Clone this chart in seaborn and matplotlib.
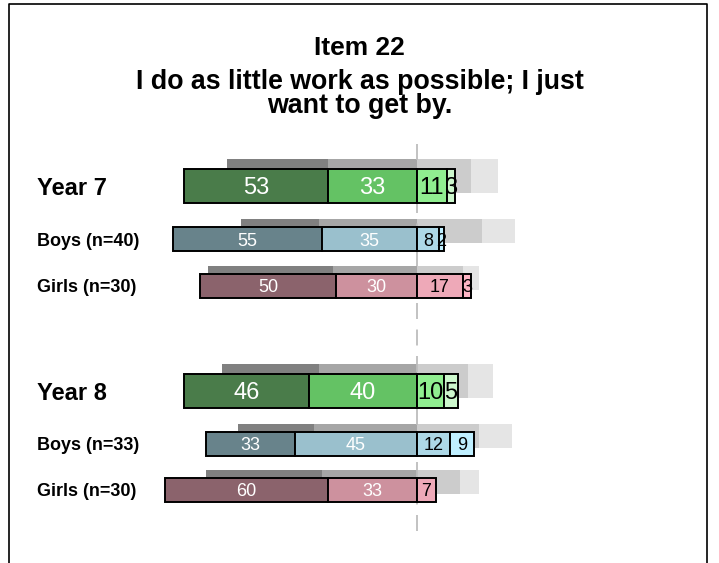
import numpy as np
import matplotlib
matplotlib.use('Agg')
import matplotlib.pyplot as plt
from matplotlib.lines import Line2D
import seaborn as sns

sns.set_style('white')
plt.rcParams['font.family'] = ['Liberation Sans', 'DejaVu Sans']
plt.rcParams['text.color'] = 'black'

#%% data

title = 'Item 22'
question = ['I do as little work as possible; I just', 'want to get by.']

groups = ['Year 7', 'Boys (n=40)', 'Girls (n=30)', 'Year 8', 'Boys (n=33)', 'Girls (n=30)']
is_year = [True, False, False, True, False, False]

# percentages per response category (left two = disagree side, right two = agree side)
cat1 = [53, 55, 50, 46, 33, 60]
cat2 = [33, 35, 30, 40, 45, 33]
cat3 = [11, 8, 17, 10, 12, 7]
cat4 = [3, 2, 3, 5, 9, 0]

# comparison (grey shadow) bars
cmp1 = [37, 29, 46, 36, 28, 43]
cmp2 = [33, 36, 31, 36, 38, 35]
cmp3 = [20, 24, 17, 19, 23, 16]
cmp4 = [10, 12, 6, 9, 12, 7]

#%% styling

year_cols = ['#4a7c4a', '#64c264', '#90ee90', '#ccf7cc']
boys_cols = ['#68838b', '#9ac0cd', '#add8e6', '#bfefff']
girls_cols = ['#8b636c', '#cd919e', '#eea9b8', '#ffb5c5']
grey_cols = ['#808080', '#a6a6a6', '#cccccc', '#e5e5e5']
row_cols = [year_cols, boys_cols, girls_cols, year_cols, boys_cols, girls_cols]

W, H = 719, 563
px_per_unit = 2.71
x0 = 417  # pixel position of zero

# row centres in pixels from top
row_y = [186, 239, 286, 390.5, 444, 490]

fig = plt.figure(figsize=(W / 100, H / 100), dpi=100)
ax = fig.add_axes([0, 0, 1, 1])
ax.set_xlim(-x0 / px_per_unit, (W - x0) / px_per_unit)
ax.set_ylim(H, 0)
ax.axis('off')

# frame (open at the bottom)
fig.add_artist(Line2D([9 / W, 9 / W, 707 / W, 707 / W], [-0.05, 1 - 4 / H, 1 - 4 / H, -0.05],
                      transform=fig.transFigure, color='k', lw=1.2))

# titles
fig.text(0.5, 1 - 55 / H, title, ha='center', va='baseline', fontsize=19, fontweight='bold')
for i, line in enumerate(question):
    fig.text(0.5, 1 - (89 + 24 * i) / H, line, ha='center', va='baseline', fontsize=19.3, fontweight='bold')

# zero line
ax.plot([0, 0], [144, 533], color='#bdbdbd', lw=1.3, dashes=(16 / 1.3 * 0.72, 10.5 / 1.3 * 0.72), zorder=2)

data = np.array([cat1, cat2, cat3, cat4]).T
shadow = np.array([cmp1, cmp2, cmp3, cmp4]).T

for i, grp in enumerate(groups):
    yc = row_y[i]
    h = 34 if is_year[i] else 24
    off = 10 if is_year[i] else 8
    fs = 17 if is_year[i] else 13

    # grey comparison bar
    s = shadow[i]
    lefts = [-(s[0] + s[1]), -s[1], 0, s[2]]
    ax.barh(yc - off, s, left=lefts, height=h, color=grey_cols, lw=0, zorder=1)

    # main bar
    d = data[i]
    lefts = [-(d[0] + d[1]), -d[1], 0, d[2]]
    for j in range(4):
        if d[j] == 0:
            continue
        ax.barh(yc, d[j], left=lefts[j], height=h, color=row_cols[i][j],
                edgecolor='black', lw=1.4, zorder=3)
        ax.text(lefts[j] + d[j] / 2, yc, str(d[j]), ha='center', va='center_baseline',
                fontsize=fs, color='white' if j < 2 else 'black', zorder=4)

    # row label
    ax.text(37 / px_per_unit - x0 / px_per_unit, yc, grp, ha='left', va='center_baseline',
            fontsize=17 if is_year[i] else 13, fontweight='bold', color='black')

fig.savefig('out.png', dpi=100)
